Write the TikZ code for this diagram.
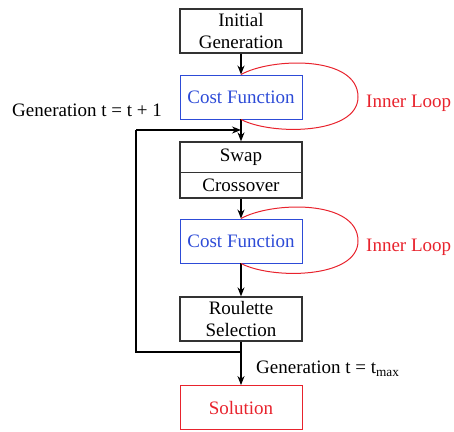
\documentclass[tikz,border=0pt]{standalone}
\usepackage{fontspec}
\setmainfont{Liberation Serif}
\usetikzlibrary{arrows.meta}
\definecolor{cfblue}{RGB}{45,75,215}
\definecolor{loopred}{RGB}{232,35,45}
\begin{document}
\begin{tikzpicture}[x=1pt,y=-1pt,
  font=\fontsize{19}{21.5}\selectfont,
  box/.style={draw=black!80,line width=1.3pt,minimum width=122pt,minimum height=44pt,inner sep=0pt,align=center},
  bluebox/.style={box,draw=cfblue,line width=0.9pt,text=cfblue},
  redbox/.style={box,draw=loopred,line width=0.9pt,text=loopred},
  plain/.style={inner sep=0pt},
  arr/.style={line width=1.3pt,-{Stealth[length=9pt,width=7pt]}},
  flow/.style={line width=1.3pt},
  loop/.style={draw=loopred,line width=1pt},
  lbl/.style={inner sep=0pt}]
\useasboundingbox (0,0) rectangle (454,431);
\node[box] (ig) at (241,31) {Initial\\Generation};
\node[bluebox] (cf1) at (241,97) {Cost Function};
\node[box,minimum height=56pt] (sc) at (241,170) {};
\node[plain] (sw) at (241,157) {Swap};
\node[plain] (co) at (241,185) {Crossover};
\coordinate (dv) at (0,172);
\draw[line width=1pt,black!80] (sc.west |- dv) -- (sc.east |- dv);
\node[bluebox] (cf2) at (241,241) {Cost Function};
\node[box] (rs) at (241,319) {Roulette\\Selection};
\node[redbox] (sol) at (241,407.5) {Solution};
\coordinate (split) at (241,352);
\coordinate (lowL) at (136,352);
\coordinate (upL) at (136,130);
\coordinate (join) at (241,130);
\draw[arr] (ig) -- (cf1);
\draw[arr] (cf1) -- (sc);
\draw[flow] (rs.south) -- (split);
\draw[arr] (split) -- (sol);
\draw[flow] (split) -- (lowL) -- (upL);
\draw[arr] (upL) -- (join);
\draw[arr] (sc) -- (cf2);
\draw[arr] (cf2) -- (rs);
\coordinate (m1) at (358,97);
\coordinate (m2) at (358,241);
\draw[loop] (cf1.north) .. controls +(30,-17) and +(0,-42) .. (m1) .. controls +(0,38) and +(30,16) .. (cf1.south);
\draw[loop] (cf2.north) .. controls +(30,-17) and +(0,-42) .. (m2) .. controls +(0,38) and +(30,16) .. (cf2.south);
\node[lbl,text=loopred,anchor=west] (il1) at (366,103) {Inner Loop};
\node[lbl,text=loopred,anchor=west] (il2) at (366,247) {Inner Loop};
\node[lbl,anchor=west] (g1) at (12,110) {Generation t = t + 1};
\node[lbl,anchor=west] (g2) at (256,369) {Generation t = t\textsubscript{max}};
\end{tikzpicture}
\end{document}
